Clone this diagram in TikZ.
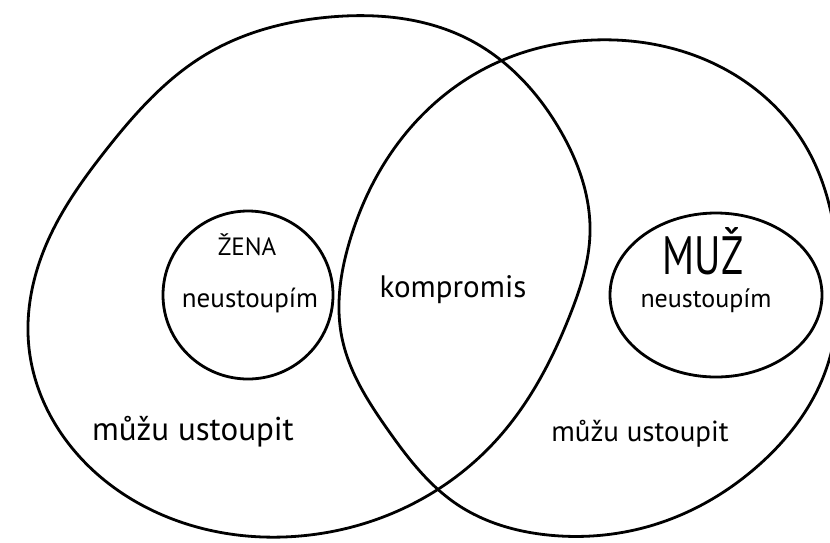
\documentclass[tikz,border=0pt]{standalone}
\usepackage{fontspec}
\setmainfont{PT Sans}
\usetikzlibrary{hobby}
\begin{document}
\begin{tikzpicture}[x=1pt,y=-1pt,
  outline/.style={draw=black,line width=2.8pt,line join=round},
  lbl/.style={inner sep=0pt,text=black}]
\useasboundingbox (0,0) rectangle (830,542);
\clip (0,0) rectangle (830,542);
% left big loop (woman)
\draw[outline] plot[closed hobby] coordinates {
  (330,17) (470,40) (560,130) (590,233) (570,315) (500,436)
  (420,500) (300,536) (175,520) (78,455) (29,348)
  (46,245) (106,150) (205,55)};
% right big loop (man)
\draw[outline] plot[closed hobby] coordinates {
  (615,40) (730,72) (805,145) (838,262) (824,375) (760,464)
  (650,526) (548,535) (458,505) (388,430) (342,338)
  (350,240) (402,138) (482,70)};
% small inner circles
\draw[outline] (248,295) ellipse[x radius=85,y radius=84];
\draw[outline] (716,295) ellipse[x radius=106,y radius=82];
% labels
\node[lbl,font=\fontsize{25}{25}\selectfont] (zena) at (247,245) {ŽENA};
\node[lbl,font=\fontsize{27}{27}\selectfont] (zneu) at (250,300) {neustoupím};
\node[lbl,font=\fontsize{54}{54}\selectfont,xscale=0.75,transform shape] (muz) at (703,251) {MUŽ};
\node[lbl,font=\fontsize{26}{26}\selectfont] (mneu) at (706,301) {neustoupím};
\node[lbl,font=\fontsize{31}{31}\selectfont] (komp) at (453,290) {kompromis};
\node[lbl,font=\fontsize{33}{33}\selectfont] (zust) at (193,432) {můžu ustoupit};
\node[lbl,font=\fontsize{29}{29}\selectfont] (must) at (640,434) {můžu ustoupit};
\end{tikzpicture}
\end{document}
